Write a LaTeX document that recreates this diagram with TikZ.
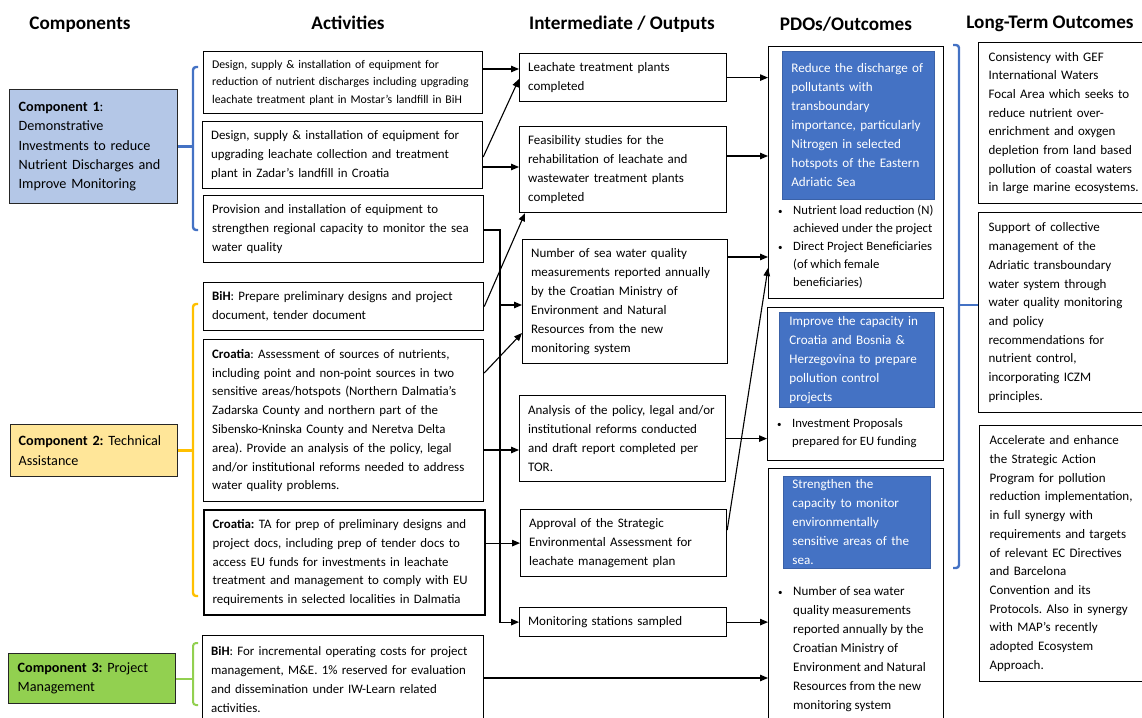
\documentclass[tikz,border=0pt]{standalone}
\usepackage{fontspec}
\setmainfont{Carlito}
\usetikzlibrary{arrows.meta}
\definecolor{compblue}{HTML}{B4C7E7}
\definecolor{compyellow}{HTML}{FFE699}
\definecolor{compgreen}{HTML}{92D050}
\definecolor{pdoblue}{HTML}{4472C4}
\definecolor{bracegold}{HTML}{FFC000}
\newcommand{\bul}{{\fontsize{9}{9}\selectfont\textbullet}}
\frenchspacing
\begin{document}
\begin{tikzpicture}[x=1pt, y=-1pt, every node/.style={inner sep=0pt}]
\tikzset{head/.style={font=\fontsize{19.2}{23}\selectfont\bfseries},
  compbox/.style={draw=black!85,line width=1.3pt,anchor=north west,align=left,inner xsep=9pt,font=\fontsize{14.2}{19.3}\selectfont},
  actbox/.style={draw,line width=1.2pt,anchor=north west,align=left,inner xsep=8.5pt,font=\fontsize{12.9}{18.8}\selectfont},
  outbox/.style={draw,line width=1.2pt,anchor=north west,align=left,inner xsep=8.5pt,font=\fontsize{13}{19}\selectfont},
  pdobox/.style={draw,line width=1.2pt,anchor=north west},
  goalbox/.style={fill=pdoblue,draw=pdoblue!85!black,line width=0.8pt,text=white,anchor=north west,align=left,inner xsep=9pt,font=\fontsize{13.1}{19}\selectfont},
  bullets/.style={anchor=north west,font=\fontsize{12.7}{18}\selectfont},
  ltbox/.style={draw,line width=1.2pt,anchor=north west,align=left,inner xsep=10pt,font=\fontsize{13}{18.7}\selectfont},
  brace/.style={line width=2.4pt,rounded corners=3pt},
  arr/.style={-{Triangle[length=8pt,width=6.5pt]},line width=1.1pt}}
\useasboundingbox (0,0) rectangle (1142,717);
% column heads
\node[head] (hcomp) at (80,25) {Components};
\node[head] (hact) at (348,23) {Activities};
\node[head] (hout) at (622,24) {Intermediate / Outputs};
\node[head] (hpdo) at (846,24) {PDOs/Outcomes};
\node[head] (hlt) at (1050,24) {Long-Term Outcomes};
% components
\node[compbox,fill=compblue,minimum width=168pt,minimum height=114pt,text width=150pt] (c1) at (9,89) {
  \textbf{Component 1}:\\ Demonstrative\\ Investments to reduce\\ Nutrient Discharges and\\ Improve Monitoring};
\node[compbox,fill=compyellow,minimum width=167pt,minimum height=52pt,text width=151pt,inner xsep=8pt] (c2) at (10,424) {
  \textbf{Component 2:} Technical\\ Assistance};
\node[compbox,fill=compgreen,minimum width=167pt,minimum height=50pt,text width=149pt] (c3) at (8,653) {
  \textbf{Component 3:} Project\\ Management};
% activities
\node[actbox,minimum width=279pt,minimum height=62pt,text width=262pt,font=\fontsize{11.8}{17.5}\selectfont] (a1) at (203,51) {
  Design, supply \& installation of equipment for\\
  reduction of nutrient discharges including upgrading\\
  leachate treatment plant in Mostar’s landfill in BiH};
\node[actbox,minimum width=280pt,minimum height=67pt,text width=263pt] (a2) at (202,121) {
  Design, supply \& installation of equipment for\\
  upgrading leachate collection and treatment\\
  plant in Zadar’s landfill in Croatia};
\node[actbox,minimum width=280pt,minimum height=67pt,text width=263pt] (a3) at (203,195) {
  Provision and installation of equipment to\\
  strengthen regional capacity to monitor the sea\\
  water quality};
\node[actbox,minimum width=280pt,minimum height=48pt,text width=263pt] (a4) at (203,282) {
  \textbf{BiH}: Prepare preliminary designs and project\\
  document, tender document};
\node[actbox,minimum width=280pt,minimum height=162pt,text width=263pt] (a5) at (203,339) {
  \textbf{Croatia}: Assessment of sources of nutrients,\\
  including point and non-point sources in two\\
  sensitive areas/hotspots (Northern Dalmatia’s\\
  Zadarska County and northern part of the\\
  Sibensko-Kninska County and Neretva Delta\\
  area). Provide an analysis of the policy, legal\\
  and/or institutional reforms needed to address\\
  water quality problems.};
\node[actbox,line width=2.2pt,minimum width=281pt,minimum height=105pt,text width=264pt] (a6) at (203,509) {
  \textbf{Croatia:} TA for prep of preliminary designs and\\
  project docs, including prep of tender docs to\\
  access EU funds for investments in leachate\\
  treatment and management to comply with EU\\
  requirements in selected localities in Dalmatia};
\node[actbox,minimum width=281pt,minimum height=88pt,text width=264pt] (a7) at (202,635) {
  \textbf{BiH}: For incremental operating costs for project\\
  management, M\&E. 1\% reserved for evaluation\\
  and dissemination under IW-Learn related\\
  activities.};
% outputs
\node[outbox,minimum width=207pt,minimum height=48pt,text width=190pt] (o1) at (519,53) {
  Leachate treatment plants\\ completed};
\node[outbox,minimum width=207pt,minimum height=86pt,text width=190pt] (o2) at (519,126) {
  Feasibility studies for the\\ rehabilitation of leachate and\\ wastewater treatment plants\\ completed};
\node[outbox,minimum width=205pt,minimum height=124pt,text width=188pt] (o3) at (522,239) {
  Number of sea water quality\\ measurements reported annually\\ by the Croatian Ministry of\\
  Environment and Natural\\ Resources from the new\\ monitoring system};
\node[outbox,minimum width=206pt,minimum height=86pt,text width=189pt] (o4) at (519,395) {
  Analysis of the policy, legal and/or\\ institutional reforms conducted\\ and draft report completed per\\ TOR.};
\node[outbox,minimum width=206pt,minimum height=67pt,text width=189pt] (o5) at (520,509) {
  Approval of the Strategic\\ Environmental Assessment for\\ leachate management plan};
\node[outbox,minimum width=207pt,minimum height=29pt,text width=190pt] (o6) at (519,607) {
  Monitoring stations sampled};
% PDOs
\node[pdobox,minimum width=175pt,minimum height=252pt] (p1) at (768,46) {};
\node[goalbox,minimum width=152pt,minimum height=148pt,text width=134pt] (p1g) at (782,51) {
  Reduce the discharge of\\ pollutants with\\ transboundary\\ importance, particularly\\
  Nitrogen in selected\\ hotspots of the Eastern\\ Adriatic Sea};
\node[bullets] (p1i) at (778,202) {\begin{tabular}{@{}p{15pt}@{}l@{}}
  \bul & Nutrient load reduction (N)\\ & achieved under the project\\
  \bul & Direct Project Beneficiaries\\ & (of which female\\ & beneficiaries)\end{tabular}};
\node[pdobox,minimum width=176pt,minimum height=153pt] (p2) at (767,307) {};
\node[goalbox,minimum width=155pt,minimum height=95pt,text width=135pt,inner xsep=10pt] (p2g) at (779,312) {
  Improve the capacity in\\ Croatia and Bosnia \&\\ Herzegovina to prepare\\ pollution control\\ projects};
\node[bullets] (p2i) at (777,415) {\begin{tabular}{@{}p{15pt}@{}l@{}}
  \bul & Investment Proposals\\ & prepared for EU funding\end{tabular}};
\node[pdobox,minimum width=175pt,minimum height=262pt] (p3) at (768,468) {};
\node[goalbox,minimum width=147pt,minimum height=92pt,text width=129pt] (p3g) at (783,476) {
  Strengthen the\\ capacity to monitor\\ environmentally\\ sensitive areas of the\\ sea.};
\node[bullets,font=\fontsize{13}{19}\selectfont] (p3i) at (778,582) {\begin{tabular}{@{}p{15pt}@{}l@{}}
  \bul & Number of sea water\\ & quality measurements\\ & reported annually by the\\ & Croatian Ministry of\\
  & Environment and Natural\\ & Resources from the new\\ & monitoring system\end{tabular}};
% long-term outcomes
\node[ltbox,minimum width=180pt,minimum height=161pt,text width=160pt] (l1) at (978,42) {
  Consistency with GEF\\ International Waters\\ Focal Area which seeks to\\ reduce nutrient over-\\
  enrichment and oxygen\\ depletion from land based\\ pollution of coastal waters\\ in large marine ecosystems.};
\node[ltbox,minimum width=180pt,minimum height=200pt,text width=160pt] (l2) at (978,212) {
  Support of collective\\ management of the\\ Adriatic transboundary\\ water system through\\
  water quality monitoring\\ and policy\\ recommendations for\\ nutrient control,\\ incorporating ICZM\\ principles.};
\node[ltbox,minimum width=180pt,minimum height=256pt,text width=160pt] (l3) at (979,425) {
  Accelerate and enhance\\ the Strategic Action\\ Program for pollution\\ reduction implementation,\\
  in full synergy with\\ requirements and targets\\ of relevant EC Directives\\ and Barcelona\\
  Convention and its\\ Protocols. Also in synergy\\ with MAP’s recently\\ adopted Ecosystem\\ Approach.};
% braces
\draw[brace,pdoblue] (198,67) -- (193,67) -- (193,230) -- (198,230);
\draw[brace,pdoblue,rounded corners=0pt] (c1.east) -- (c1.east -| 193,0);
\draw[brace,bracegold] (198,304) -- (193,304) -- (193,596) -- (198,596);
\draw[brace,bracegold,rounded corners=0pt] (c2.east) -- (c2.east -| 193,0);
\draw[brace,compgreen,line width=2pt] (198,643) -- (193,643) -- (193,705) -- (198,705);
\draw[brace,compgreen,line width=2pt,rounded corners=0pt] (c3.east) -- (c3.east -| 193,0);
\draw[brace,pdoblue] (953,45) -- (959,45) -- (959,568) -- (953,568);
\draw[brace,pdoblue,rounded corners=0pt] (959,305) -- (l2.west |- 0,305);
% activities to outputs
\draw[arr] (a1.east |- 0,69) -- (o1.west |- 0,69);
\draw[arr] (a2.east |- 0,157) -- (o1.west |- 0,79);
\draw[arr] (a2.east |- 0,167) -- (o2.west |- 0,167);
\coordinate (trunk) at (500,230);
\draw[arr] (a3.east |- trunk) -- (trunk) |- (o6.west);
\draw[arr] (trunk |- 0,305) -- (o3.west |- 0,305);
\draw[arr] (a4.east) -- ([xshift=6pt]o2.south west);
\draw[arr] (a5.east |- 0,373) -- (o3.west |- 0,333);
\draw[arr] (a5.east |- 0,450) -- (o4.west |- 0,450);
\draw[arr] (a6.east |- o5.west) -- (o5.west);
\draw[arr] (a7.east |- 0,678) -- (p3.west |- 0,678);
% outputs to PDOs
\draw[arr] (o1.east) -- (o1.east -| p1.west);
\draw[arr] (o2.east |- 0,156) -- (p1.west |- 0,156);
\draw[arr] (o3.east |- 0,257) -- (p1.west |- 0,257);
\draw[arr] (o5.east |- 0,530) -- (p1.west |- 0,268);
\draw[arr] (o4.east) -- (o4.east -| p2.west);
\draw[arr] (o6.east) -- (o6.east -| p3.west);
\end{tikzpicture}
\end{document}
